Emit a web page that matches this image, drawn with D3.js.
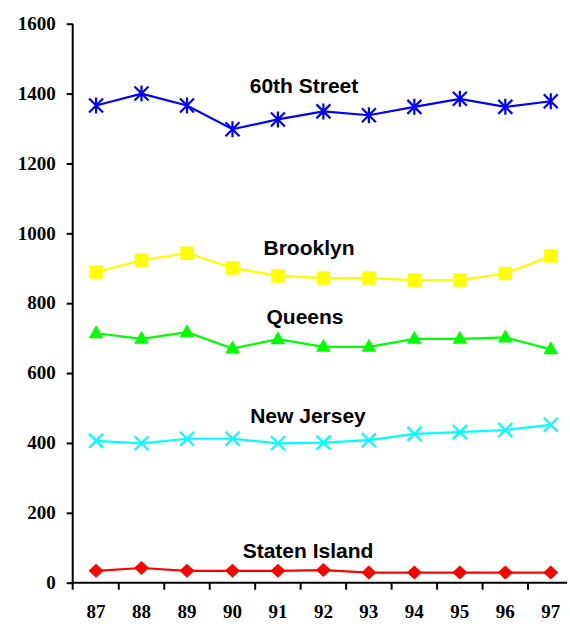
<!DOCTYPE html>
<html><head><meta charset="utf-8">
<script src="https://cdn.jsdelivr.net/npm/d3@7"></script>
<style>body{margin:0;background:#fff}svg{display:block}</style>
</head><body>
<script>
const years = ["87","88","89","90","91","92","93","94","95","96","97"];
const yTicks = [0,200,400,600,800,1000,1200,1400,1600];
const street60 = [1366,1400,1366,1298,1326,1349,1338,1362,1385,1362,1378];
const brooklyn = [889,923,943,901,878,872,872,866,866,885,935];
const queens = [714,698,717,670,697,675,675,698,698,702,668];
const newJersey = [406,399,412,412,399,401,408,426,431,437,452];
const statenIsland = [34,42,34,34,34,36,29,29,29,29,29];
const seriesNames = ["60th Street","Brooklyn","Queens","New Jersey","Staten Island"];

const series = [
  {name:seriesNames[0], values:street60, color:"#0000ff", marker:"asterisk", lx:304, ly:93},
  {name:seriesNames[1], values:brooklyn, color:"#ffff00", marker:"square", lx:309, ly:255},
  {name:seriesNames[2], values:queens, color:"#00ff00", marker:"triangle", lx:305, ly:324},
  {name:seriesNames[3], values:newJersey, color:"#00ffff", marker:"x", lx:308, ly:423},
  {name:seriesNames[4], values:statenIsland, color:"#ff0000", marker:"diamond", lx:308, ly:558}
];

const W=570,H=636;
const svg=d3.select("body").append("svg").attr("width",W).attr("height",H);
const x=d3.scaleBand().domain(years).range([73.3,573.5]);
const y=d3.scaleLinear().domain([0,1600]).range([582.7,23.7]);
const axisX0=72.7;
const serif="'Liberation Serif','Times New Roman',serif";

// y axis
const yAxis=svg.append("g").attr("transform",`translate(${axisX0},0)`)
  .call(d3.axisLeft(y).tickValues(yTicks).tickFormat(d3.format("d")).tickSize(6).tickPadding(11).tickSizeOuter(0));
yAxis.select(".domain").attr("stroke","#000").attr("stroke-width",2)
  .attr("d",`M0,${y(1600)}V${y(0)+1}`);
yAxis.selectAll(".tick line").attr("stroke","#000").attr("stroke-width",2);
yAxis.selectAll(".tick text").attr("font-family",serif)
  .attr("font-weight","bold").attr("font-size",19).attr("fill","#000").attr("dy","0.3em");

// x axis
const xg=svg.append("g").attr("transform",`translate(0,${y(0)})`);
xg.append("line").attr("x1",axisX0-1).attr("x2",567).attr("y1",0).attr("y2",0)
  .attr("stroke","#000").attr("stroke-width",2);
xg.selectAll("line.tk").data(years.slice(1)).enter().append("line").attr("class","tk")
  .attr("x1",d=>x(d)).attr("x2",d=>x(d)).attr("y1",0).attr("y2",7)
  .attr("stroke","#000").attr("stroke-width",2);
xg.selectAll("line.tk0").data([years[0]]).enter().append("line")
  .attr("x1",axisX0).attr("x2",axisX0).attr("y1",0).attr("y2",7)
  .attr("stroke","#000").attr("stroke-width",2);
xg.selectAll("text").data(years).enter().append("text")
  .attr("x",d=>x(d)+x.bandwidth()/2).attr("y",35).attr("text-anchor","middle")
  .attr("font-family",serif)
  .attr("font-weight","bold").attr("font-size",19).text(d=>d);

const cx=d=>x(d)+x.bandwidth()/2;
const line=d3.line().x((v,i)=>cx(years[i])).y(v=>y(v));

series.forEach(s=>{
  const g=svg.append("g");
  g.append("path").attr("d",line(s.values)).attr("fill","none")
    .attr("stroke",s.color).attr("stroke-width",2.2);
  s.values.forEach((v,i)=>{
    const px=cx(years[i]), py=y(v);
    const m=g.append("g").attr("transform",`translate(${px},${py})`);
    if(s.marker==="asterisk"){
      m.append("path").attr("d","M0,-8V8M-7,-7L7,7M-7,7L7,-7")
        .attr("stroke",s.color).attr("stroke-width",2.2).attr("fill","none");
    } else if(s.marker==="square"){
      m.append("rect").attr("x",-6.7).attr("y",-6.7).attr("width",13.4).attr("height",13.4).attr("fill",s.color);
    } else if(s.marker==="triangle"){
      m.append("path").attr("d","M0,-8L7.3,5L-7.3,5Z").attr("fill",s.color);
    } else if(s.marker==="x"){
      m.append("path").attr("d","M-7,-7L7,7M-7,7L7,-7")
        .attr("stroke",s.color).attr("stroke-width",2.2).attr("fill","none");
    } else if(s.marker==="diamond"){
      m.append("path").attr("d","M0,-7L7.5,0L0,7L-7.5,0Z").attr("fill",s.color);
    }
  });
  svg.append("text").attr("x",s.lx).attr("y",s.ly).attr("text-anchor","middle")
    .attr("font-family","'Liberation Sans',Arial,sans-serif").attr("font-weight","bold")
    .attr("font-size",21).attr("fill","#000").text(s.name);
});
</script>
</body></html>
